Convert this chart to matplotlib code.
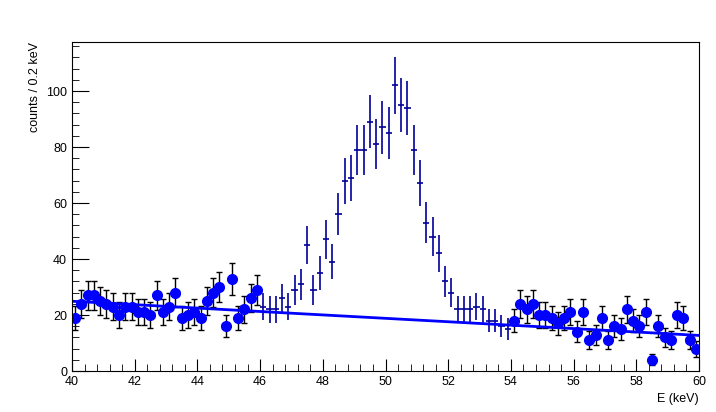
import matplotlib
matplotlib.use('Agg')
import matplotlib.pyplot as plt
import numpy as np
from matplotlib.ticker import MultipleLocator

plt.rcParams['font.family'] = ['Liberation Sans', 'DejaVu Sans']

# histogram: 100 bins of 0.2 keV from 40 to 60
edges = np.linspace(40, 60, 101)
centers = 0.5 * (edges[:-1] + edges[1:])

# sideband counts (40-46 keV and 54-60 keV), shown as blue dots
left_counts = [19, 24, 27, 27, 25, 24, 23, 20, 23, 23,
               21, 21, 20, 27, 21, 23, 28, 19, 20, 21,
               19, 25, 28, 30, 16, 33, 19, 22, 26, 29]
right_counts = [18, 24, 22, 24, 20, 20, 19, 17, 19, 21,
                14, 21, 11, 13, 19, 11, 16, 15, 22, 18,
                16, 21, 4, 16, 12, 11, 20, 19, 11, 8]
# peak region counts (46-54 keV), shown as crosses
peak_counts = [23, 22, 22, 26, 23, 29, 31, 45, 29, 35,
               47, 39, 56, 68, 69, 79, 79, 89, 81, 87,
               85, 102, 95, 94, 79, 67, 53, 48, 42, 32,
               28, 22, 22, 22, 23, 22, 18, 18, 16, 15]

counts = np.array(left_counts + peak_counts + right_counts, dtype=float)
errs = np.sqrt(counts)
side = np.r_[np.arange(0, 30), np.arange(70, 100)]
mid = np.arange(30, 70)

fig = plt.figure(figsize=(7.16, 4.12), dpi=100)
ax = fig.add_axes([72/716, 1-371/412, 627/716, 329/412])

# peak region crosses
ax.errorbar(centers[mid], counts[mid], yerr=errs[mid], xerr=0.1, fmt='none',
            ecolor='#000099', elinewidth=1.2)
# sidebands
ax.errorbar(centers[side], counts[side], yerr=errs[side], xerr=0.1, fmt='none',
            ecolor='black', elinewidth=1, capsize=2.5)
ax.plot(centers[side], counts[side], 'o', color='blue', ms=7)

# linear background fit to sidebands
p = np.polyfit(centers[side], counts[side], 1, w=1/np.sqrt(counts[side].clip(1)))
xs = np.linspace(40, 60, 200)
ax.plot(xs, np.polyval(p, xs), color='blue', lw=2)

ax.set_xlim(40, 60)
ax.set_ylim(0, 117.5)
ax.xaxis.set_major_locator(MultipleLocator(2))
ax.xaxis.set_minor_locator(MultipleLocator(0.4))
ax.yaxis.set_major_locator(MultipleLocator(20))
ax.yaxis.set_minor_locator(MultipleLocator(4))
ax.tick_params(which='both', direction='in', labelsize=9)
ax.tick_params(which='major', length=9)
ax.tick_params(which='minor', length=5)
ax.tick_params(axis='y', which='major', length=12)
ax.set_xlabel('E (keV)', fontsize=9, loc='right')
ax.set_ylabel('counts / 0.2 keV', fontsize=9, loc='top')

fig.savefig('out.png', dpi=100)
